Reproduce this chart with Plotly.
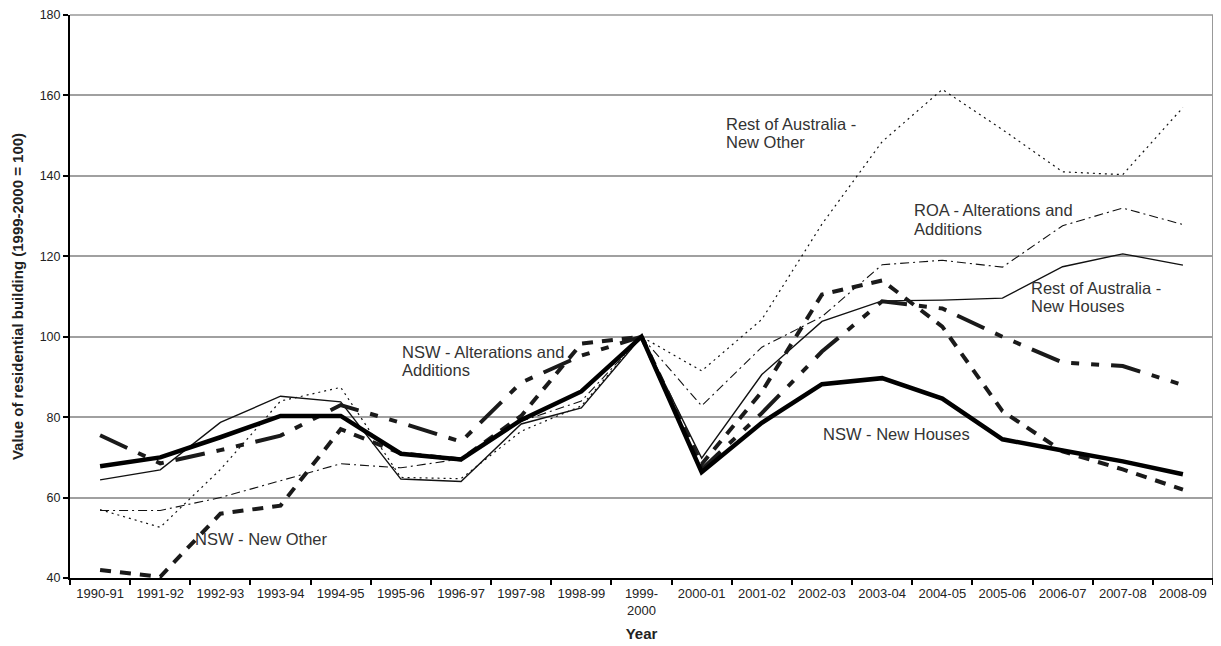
import plotly.graph_objects as go

years = ["1990-91", "1991-92", "1992-93", "1993-94", "1994-95", "1995-96", "1996-97",
         "1997-98", "1998-99", "1999-<br>2000", "2000-01", "2001-02", "2002-03", "2003-04",
         "2004-05", "2005-06", "2006-07", "2007-08", "2008-09"]

nsw_new_houses = [67.8, 70.0, 75.0, 80.3, 80.3, 70.9, 69.5, 79.3, 86.4, 100.0,
                  66.3, 78.6, 88.2, 89.7, 84.6, 74.5, 71.7, 69.0, 65.8]
nsw_alterations = [75.5, 68.5, 71.8, 75.4, 83.0, 78.6, 73.9, 88.6, 95.3, 100.0,
                   67.0, 81.0, 96.3, 108.8, 107.0, 100.0, 93.6, 92.7, 88.0]
nsw_new_other = [42.0, 40.3, 56.0, 58.0, 77.0, 71.0, 69.5, 80.3, 98.3, 100.0,
                 68.3, 86.3, 110.5, 114.0, 102.5, 81.5, 71.5, 67.0, 62.0]
roa_new_houses = [64.4, 66.9, 78.7, 85.2, 83.8, 64.6, 64.0, 78.3, 82.3, 100.0,
                  69.8, 90.6, 103.8, 108.9, 109.1, 109.6, 117.4, 120.6, 117.8]
roa_alterations = [56.8, 56.8, 60.0, 64.2, 68.4, 67.4, 69.6, 79.0, 84.0, 100.0,
                   82.8, 97.4, 105.0, 117.9, 119.0, 117.3, 127.6, 132.0, 127.9]
roa_new_other = [57.0, 52.6, 67.0, 84.0, 87.4, 65.0, 64.7, 76.5, 82.8, 100.0,
                 91.5, 104.3, 128.0, 148.5, 161.5, 151.5, 141.0, 140.3, 157.0]

# series labels: (text line, anchor category, value, pixel shift)
label_lines = [
    ("Rest of Australia -", "2000-01", 152.9, 23),
    ("New Other", "2000-01", 148.3, 23),
    ("ROA - Alterations and", "2003-04", 131.4, 31),
    ("Additions", "2003-04", 126.8, 31),
    ("Rest of Australia -", "2005-06", 112.2, 28),
    ("New Houses", "2005-06", 107.7, 28),
    ("NSW - Alterations and", "1995-96", 96.3, 0),
    ("Additions", "1995-96", 91.6, 0),
    ("NSW - New Houses", "2002-03", 75.7, 0),
    ("NSW - New Other", "1992-93", 49.8, -26),
]

FONT = "Liberation Sans, Arial, sans-serif"

fig = go.Figure()

def add(y, width, dash, color="#000000"):
    fig.add_trace(go.Scatter(x=years, y=y, mode="lines",
                             line=dict(color=color, width=width, dash=dash),
                             showlegend=False, hoverinfo="skip"))

add(roa_new_other, 1.2, "2px,4px", "#111111")
add(roa_alterations, 1.1, "9px,4px,2px,4px", "#111111")
add(roa_new_houses, 1.4, "solid", "#111111")
add(nsw_new_other, 4, "11px,9px", "#1a1a1a")
add(nsw_alterations, 4, "30px,12px,8px,12px,8px,12px", "#1a1a1a")
add(nsw_new_houses, 4.5, "solid", "#000000")

annotations = []
for text, xc, yv, xs in label_lines:
    annotations.append(dict(x=xc, y=yv, xref="x", yref="y", text=text, showarrow=False,
                            xanchor="left", yanchor="middle", align="left",
                            xshift=xs, borderpad=0,
                            font=dict(family=FONT, size=16.5, color="#333333")))

fig.update_layout(
    width=1213, height=638,
    margin=dict(l=62, r=8, t=7, b=68),
    paper_bgcolor="white", plot_bgcolor="white",
    font=dict(family=FONT, size=12, color="#222222"),
    annotations=annotations,
    shapes=[dict(type="line", xref="paper", yref="paper", x0=1, x1=1, y0=0, y1=1,
                 line=dict(color="#999999", width=2)),
            dict(type="line", xref="paper", yref="paper", x0=0, x1=1, y0=1, y1=1,
                 line=dict(color="#999999", width=1.5))],
)
fig.update_xaxes(
    type="category", range=[-0.5, 18.5], automargin=False,
    showline=True, linecolor="black", linewidth=2,
    ticks="outside", tickson="boundaries", ticklen=5, tickcolor="black", tickwidth=1.5,
    showgrid=False, ticklabelstandoff=2,
    tickfont=dict(family=FONT, size=13, color="#222222"),
    title=dict(text="<b>Year</b>", font=dict(family=FONT, size=15, color="#222222"),
               standoff=12),
)
fig.update_yaxes(
    range=[40, 180], dtick=20, automargin=False, ticklabeloverflow="allow",
    showline=True, linecolor="black", linewidth=2,
    ticks="outside", ticklen=5, tickcolor="black", tickwidth=1.5,
    showgrid=True, gridcolor="#a0a0a0", gridwidth=1.5, zeroline=False,
    tickfont=dict(family=FONT, size=12.5, color="#222222"),
    title=dict(text="<b>Value of residential building (1999-2000 = 100)</b>",
               font=dict(family=FONT, size=15, color="#222222"),
               standoff=12),
)

fig.write_html("out.html")
